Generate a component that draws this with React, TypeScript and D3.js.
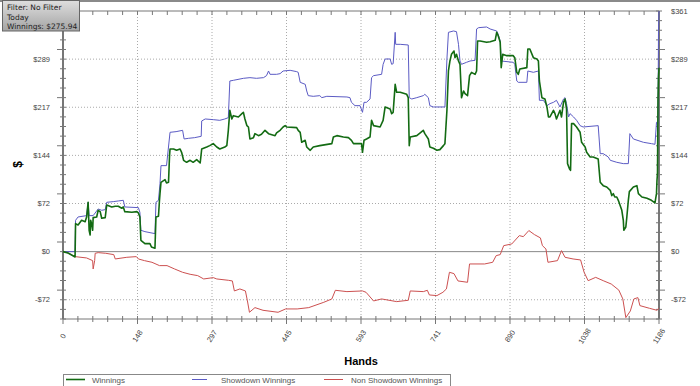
import * as d3 from "d3";
import { useEffect, useRef } from "react";

type Point = [number, number];

// hands, dollars
const winnings: Point[] = [
    [0, 0], [10, -2], [24, -8], [25, 42], [30, 40], [37, 47], [44, 45], [47, 52], [50, 74], [52, 32], [54, 25],
    [55, 47], [57, 42], [59, 32], [60, 51], [67, 52], [70, 62], [74, 60], [77, 50], [84, 51], [87, 70],
    [97, 67], [104, 68], [110, 68], [117, 65], [120, 67], [123, 60], [137, 59], [147, 60], [150, 58],
    [153, 52], [155, 17], [163, 12], [173, 12], [176, 7], [183, 5], [185, 52], [190, 53], [192, 77],
    [193, 87], [195, 104], [203, 108], [206, 103], [210, 104], [212, 144], [213, 154], [220, 154],
    [226, 152], [233, 154], [236, 149], [240, 137], [246, 134], [253, 137], [259, 134], [266, 138],
    [273, 133], [276, 154], [286, 157], [292, 159], [299, 162], [306, 157], [312, 154], [322, 157],
    [326, 159], [329, 182], [332, 212], [336, 199], [339, 204], [349, 202], [356, 207], [359, 209],
    [362, 199], [366, 189], [369, 187], [372, 169], [379, 171], [382, 177], [389, 174], [395, 176],
    [402, 182], [409, 177], [422, 174], [425, 178], [432, 182], [438, 187], [442, 189], [445, 187],
    [465, 186], [468, 182], [472, 179], [475, 164], [482, 167], [485, 157], [492, 152], [498, 157],
    [511, 159], [535, 162], [538, 172], [545, 174], [558, 172], [568, 171], [574, 167], [578, 162],
    [594, 162], [596, 149], [599, 167], [604, 169], [611, 172], [614, 197], [618, 189], [631, 187],
    [637, 197], [641, 217], [651, 214], [654, 207], [657, 209], [661, 251], [664, 239], [671, 239],
    [684, 236], [687, 231], [689, 159], [691, 172], [704, 174], [717, 182], [720, 177], [727, 169],
    [730, 157], [737, 155], [744, 152], [750, 153], [757, 159], [760, 162], [764, 212], [767, 271],
    [770, 286], [773, 296], [778, 301], [780, 291], [783, 296], [787, 286], [790, 281], [793, 231],
    [797, 241], [800, 237], [805, 234], [809, 264], [813, 269], [820, 266], [823, 271], [825, 316],
    [830, 316], [843, 314], [850, 315], [860, 317], [863, 329], [866, 324], [870, 314], [872, 276],
    [875, 296], [883, 294], [896, 294], [899, 291], [903, 269], [906, 266], [909, 274], [923, 276],
    [925, 304], [929, 304], [936, 291], [943, 289], [946, 286], [948, 256], [953, 231], [959, 229],
    [963, 217], [966, 202], [969, 202], [976, 212], [979, 207], [982, 199], [989, 212], [992, 202],
    [996, 224], [999, 229], [1002, 214], [1004, 132], [1008, 124], [1010, 122], [1012, 192],
    [1016, 192], [1022, 187], [1029, 179], [1032, 164], [1039, 157], [1042, 149], [1049, 142],
    [1055, 142], [1065, 139], [1069, 104], [1075, 99], [1082, 97], [1089, 92], [1092, 84], [1095, 87],
    [1098, 82], [1102, 82], [1105, 77], [1112, 62], [1115, 47], [1116, 32], [1120, 37], [1122, 52],
    [1125, 77], [1127, 90], [1135, 97], [1142, 99], [1145, 87], [1152, 82], [1162, 80], [1171, 77],
    [1178, 73], [1181, 87], [1182, 107], [1183, 117], [1184, 226], [1185, 262], [1186, 275.94]
];

const showdownWinnings: Point[] = [
    [0, 0], [24, 0], [25, 47], [30, 52], [47, 54], [50, 74], [52, 54], [60, 54], [70, 64], [77, 62],
    [84, 63], [87, 74], [100, 75], [110, 76], [120, 77], [123, 67], [150, 66], [153, 59], [155, 32],
    [163, 30], [183, 27], [185, 74], [190, 77], [193, 102], [195, 129], [206, 129], [213, 179],
    [225, 180], [238, 182], [241, 169], [250, 170], [262, 171], [275, 173], [276, 196], [283, 199],
    [299, 198], [312, 197], [322, 199], [329, 201], [332, 256], [339, 257], [359, 260], [372, 261],
    [385, 260], [399, 261], [405, 264], [409, 271], [412, 266], [425, 266], [432, 267], [438, 271],
    [452, 272], [465, 270], [468, 269], [472, 254], [482, 251], [485, 241], [488, 234], [498, 233],
    [511, 234], [515, 231], [525, 233], [565, 232], [571, 231], [574, 224], [581, 219], [591, 219],
    [596, 209], [599, 224], [604, 224], [611, 229], [614, 261], [618, 264], [634, 266], [637, 281],
    [641, 289], [651, 289], [654, 281], [657, 282], [661, 329], [662, 311], [671, 311], [687, 310],
    [689, 231], [694, 229], [704, 231], [717, 234], [720, 236], [727, 231], [730, 219], [737, 217],
    [760, 217], [764, 289], [767, 329], [777, 331], [783, 330], [787, 311], [790, 286], [793, 281],
    [803, 284], [810, 286], [820, 287], [823, 334], [827, 336], [843, 337], [850, 334], [863, 331],
    [866, 326], [870, 316], [872, 286], [896, 284], [899, 281], [903, 256], [906, 254], [923, 254],
    [925, 271], [936, 269], [946, 271], [948, 227], [956, 227], [963, 219], [969, 222], [976, 224],
    [982, 227], [989, 217], [996, 229], [999, 231], [1002, 222], [1006, 202], [1009, 207], [1016, 202],
    [1022, 197], [1029, 189], [1035, 187], [1065, 189], [1069, 147], [1075, 147], [1085, 142],
    [1089, 137], [1102, 134], [1115, 132], [1125, 132], [1128, 177], [1135, 169], [1155, 164],
    [1171, 162], [1178, 161], [1181, 194], [1184, 192], [1185, 330], [1186, 361]
];

const nonShowdownWinnings: Point[] = [
    [0, 0], [10, -2], [24, -7.5], [47, -9.5], [59, -13.5], [60, -26], [63, -13.5], [64, -2.5], [70, -1.5],
    [85, -2.5], [101, -4.5], [104, -11], [127, -8.5], [146, -7.5], [150, -11], [162, -13.5], [177, -16],
    [192, -21], [207, -21], [222, -26], [238, -31], [253, -34], [268, -36], [280, -41], [299, -39],
    [306, -41], [329, -43], [337, -44], [341, -59], [352, -56], [363, -59], [367, -74], [371, -91],
    [382, -84], [398, -88], [428, -91], [443, -86], [466, -86], [489, -84], [519, -76], [535, -71],
    [542, -58], [565, -60], [596, -59], [603, -61], [618, -74], [634, -71], [664, -75], [687, -73],
    [691, -59], [717, -60], [725, -58], [729, -65], [744, -66], [756, -61], [763, -56], [769, -31],
    [778, -33], [786, -44], [805, -46], [809, -18.5], [839, -18.5], [855, -16], [862, -6], [870, -4.5],
    [877, 9], [893, 11.5], [908, 24], [916, 22.5], [927, 31.6], [938, 25.6], [950, 20.6], [954, 9],
    [961, 4], [965, -16], [984, -13.5], [992, 1.5], [999, -8.5], [1015, -11], [1030, -12.5],
    [1037, -31], [1045, -43.6], [1060, -38.6], [1075, -43.6], [1091, -48.6], [1106, -57.7],
    [1114, -71], [1120, -99], [1129, -89], [1136, -71], [1144, -69], [1148, -81], [1167, -85],
    [1182, -88], [1186, -85]
];

const handsMax = 1186;
const dollarTop = 361;
const dollarBottom = -101.08;
const xTickCount = 8;
const yTickStep = 72.2;

const infoLines = ["Filter: No Filter", "Today", "Winnings: $275.94"];

const seriesNames = ["Winnings", "Showdown Winnings", "Non Showdown Winnings"];
const seriesColors = ["#136b13", "#5b5bc4", "#cc5050"];

const width = 700;
const height = 386;
const marginLeft = 63;
const marginRight = 41;
const marginTop = 11;
const marginBottom = 67;

const App = () => {
    const ref = useRef<SVGSVGElement | null>(null);

    useEffect(() => {
        document.body.style.margin = "0";
        const svg = d3.select(ref.current);
        svg.selectAll("*").remove();

        const x = d3.scaleLinear()
            .domain([0, handsMax])
            .range([marginLeft, width - marginRight]);
        const y = d3.scaleLinear()
            .domain([dollarBottom, dollarTop])
            .range([height - marginBottom, marginTop]);

        const x0 = x(0), x1 = x(handsMax);
        const yTop = y(dollarTop), yBot = y(dollarBottom);

        const majorX = d3.range(0, xTickCount + 1).map(i => i * handsMax / xTickCount);
        const minorX = d3.range(0, xTickCount * 5 + 1).map(i => i * handsMax / (xTickCount * 5));
        const majorY = d3.range(-1, 6).map(i => i * yTickStep);
        const minorY = d3.range(-7, 26).map(i => i * yTickStep / 5);

        svg.append("rect").attr("width", width).attr("height", height).attr("fill", "white");
        svg.append("line")
            .attr("x1", 0).attr("x2", width).attr("y1", 1).attr("y2", 1)
            .attr("stroke", "#8a8a8a").attr("stroke-width", 2);

        // grid
        const grid = svg.append("g")
            .attr("stroke", "#aaa")
            .attr("stroke-dasharray", "1 2");
        grid.selectAll(".gx")
            .data(majorX.slice(1, -1))
            .join("line")
            .attr("x1", d => x(d)).attr("x2", d => x(d))
            .attr("y1", yTop).attr("y2", yBot);
        grid.selectAll(".gy")
            .data(majorY.filter(d => d !== 0 && d < dollarTop - 1))
            .join("line")
            .attr("y1", d => y(d)).attr("y2", d => y(d))
            .attr("x1", x0).attr("x2", x1);

        svg.append("line")
            .attr("x1", x0).attr("x2", x1)
            .attr("y1", y(0)).attr("y2", y(0))
            .attr("stroke", "#888");

        // axes frame
        const axes = svg.append("g").attr("stroke", "#777");
        axes.append("line").attr("x1", x0).attr("x2", x1).attr("y1", yTop).attr("y2", yTop);
        axes.append("line").attr("x1", x0).attr("x2", x1).attr("y1", yBot).attr("y2", yBot);
        axes.append("line").attr("x1", x0).attr("x2", x0).attr("y1", yTop).attr("y2", yBot).attr("stroke-width", 2);
        axes.append("line").attr("x1", x1).attr("x2", x1).attr("y1", yTop).attr("y2", yBot).attr("stroke-width", 2);

        minorX.forEach((d, i) => {
            const major = i % 5 === 0;
            axes.append("line")
                .attr("x1", x(d)).attr("x2", x(d))
                .attr("y1", yBot - 3).attr("y2", yBot + (major ? 5 : 3));
            axes.append("line")
                .attr("x1", x(d)).attr("x2", x(d))
                .attr("y1", yTop).attr("y2", yTop + 4);
        });
        minorY.forEach((d, i) => {
            const major = (i + 7) % 5 === 0;
            const len = major ? 6 : 3;
            axes.append("line")
                .attr("y1", y(d)).attr("y2", y(d))
                .attr("x1", x0 - len).attr("x2", x0 + 3);
            axes.append("line")
                .attr("y1", y(d)).attr("y2", y(d))
                .attr("x1", x1 - 3).attr("x2", x1 + len);
        });

        // series, on top of the frame
        const line = d3.line<Point>()
            .x(d => x(d[0]))
            .y(d => y(d[1]));
        const series: [Point[], string, number][] = [
            [showdownWinnings, seriesColors[1], 1],
            [nonShowdownWinnings, seriesColors[2], 1],
            [winnings, seriesColors[0], 1.6]
        ];
        series.forEach(([data, color, w]) => {
            svg.append("path")
                .datum(data)
                .attr("fill", "none")
                .attr("stroke", color)
                .attr("stroke-width", w)
                .attr("stroke-linejoin", "round")
                .attr("d", line);
        });

        const fmt = (v: number) => (v < 0 ? "-$" : "$") + Math.abs(Math.round(v));
        const labels = svg.append("g")
            .style("font-family", "Arial, 'Liberation Sans', sans-serif")
            .style("font-size", "7.5px")
            .attr("fill", "#444");
        // the top left label sits under the info box
        labels.selectAll(".yl")
            .data(majorY.filter(d => d < dollarTop - 1))
            .join("text")
            .attr("x", x0 - 13)
            .attr("y", d => y(d))
            .attr("dy", "0.35em")
            .attr("text-anchor", "end")
            .text(fmt);
        labels.selectAll(".yr")
            .data(majorY)
            .join("text")
            .attr("x", x1 + 12)
            .attr("y", d => y(d))
            .attr("dy", "0.35em")
            .attr("text-anchor", "start")
            .text(fmt);
        labels.selectAll(".xl")
            .data(majorX)
            .join("text")
            .attr("transform", d => `translate(${x(d)},${yBot + 17}) rotate(-57)`)
            .attr("dy", "0.35em")
            .attr("text-anchor", "middle")
            .text(d => Math.round(d));

        svg.append("text")
            .attr("x", (x0 + x1) / 2)
            .attr("y", 365)
            .attr("text-anchor", "middle")
            .style("font-family", "Arial, 'Liberation Sans', sans-serif")
            .style("font-size", "11px")
            .style("font-weight", "bold")
            .text("Hands");
        svg.append("text")
            .attr("transform", `translate(17.5,164.5) rotate(-90)`)
            .attr("dy", "0.35em")
            .attr("text-anchor", "middle")
            .style("font-family", "Arial, 'Liberation Sans', sans-serif")
            .style("font-size", "12px")
            .style("font-weight", "bold")
            .text("$");

        // legend
        const legend = svg.append("g");
        legend.append("rect")
            .attr("x", x0 + 0.5).attr("y", 374.5)
            .attr("width", 387).attr("height", 14)
            .attr("fill", "white").attr("stroke", "#888");
        const legendItems: [number, number, number][] = [[66, 85, 92], [192, 207, 221], [324, 343, 351]];
        legendItems.forEach(([a, b, t], i) => {
            legend.append("line")
                .attr("x1", a).attr("x2", b).attr("y1", 379.5).attr("y2", 379.5)
                .attr("stroke", seriesColors[i])
                .attr("stroke-width", i === 0 ? 1.6 : 1);
            legend.append("text")
                .attr("x", t).attr("y", 382.5)
                .style("font-family", "Arial, 'Liberation Sans', sans-serif")
                .style("font-size", "8px")
                .attr("fill", "#555")
                .text(seriesNames[i]);
        });

        // info box
        const grad = svg.append("defs").append("linearGradient")
            .attr("id", "infoGrad").attr("x1", 0).attr("x2", 0).attr("y1", 0).attr("y2", 1);
        grad.append("stop").attr("offset", "0%").attr("stop-color", "#dedede");
        grad.append("stop").attr("offset", "100%").attr("stop-color", "#a4a4a4");
        svg.append("rect")
            .attr("x", 2.5).attr("y", 0.5)
            .attr("width", 77).attr("height", 30.5)
            .attr("fill", "url(#infoGrad)")
            .attr("stroke", "#666");
        svg.append("g")
            .style("font-family", "'DejaVu Sans', Verdana, sans-serif")
            .style("font-size", "7.5px")
            .attr("fill", "#222")
            .selectAll("text")
            .data(infoLines)
            .join("text")
            .attr("x", 7)
            .attr("y", (_, i) => 10 + i * 9.5)
            .text(d => d);
    }, []);

    return <svg ref={ref} width={width} height={height} style={{ display: "block" }} />;
};

export default App;
